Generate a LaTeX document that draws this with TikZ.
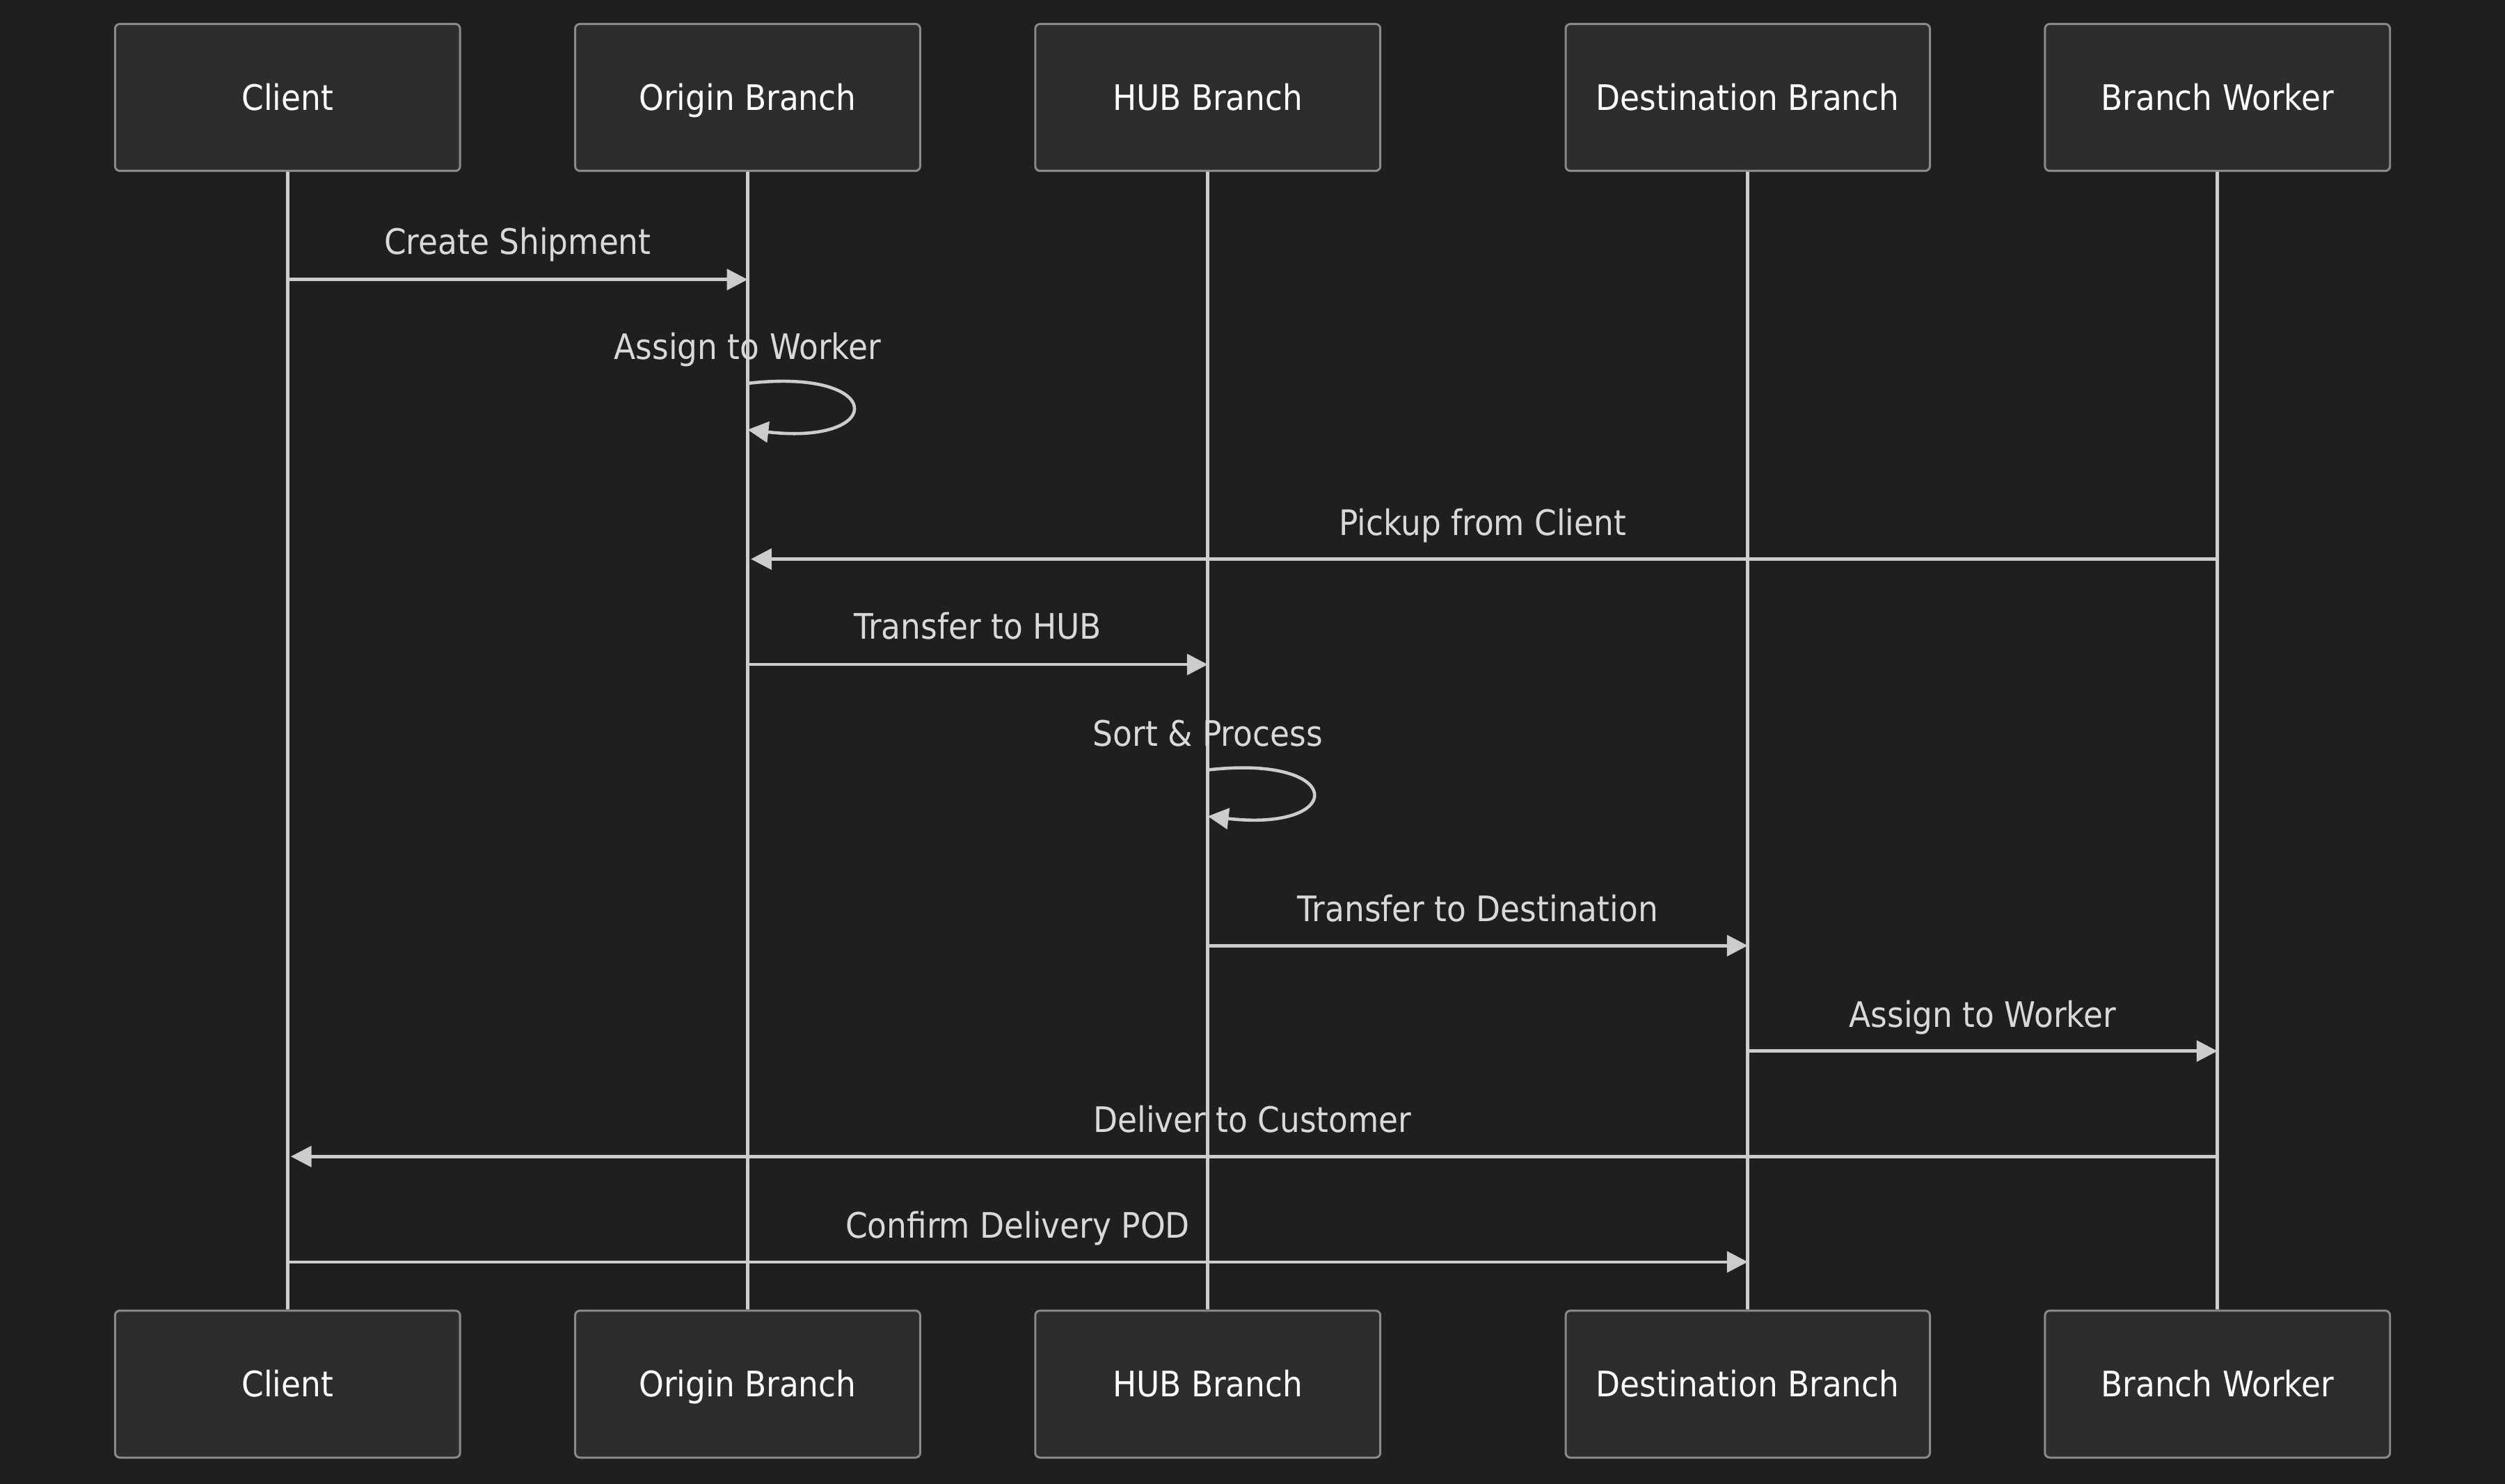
\documentclass[tikz,border=0pt]{standalone}
\usepackage{fontspec}
\setmainfont{DejaVu Sans}[FakeStretch=0.9]
\usetikzlibrary{arrows.meta, positioning}
\definecolor{bgcolor}{HTML}{1F1F1F}
\definecolor{actorfill}{HTML}{2D2D2D}
\definecolor{actorline}{HTML}{8A8A8A}
\definecolor{linecolor}{HTML}{CCCCCC}
\definecolor{msgtext}{HTML}{D9D9D9}

\begin{document}
\begin{tikzpicture}[
    x=1pt, y=-1pt,
    actor/.style={draw=actorline, line width=1.3pt, fill=actorfill, rounded corners=3pt, minimum width=216pt, minimum height=92pt, inner sep=0pt, text height=16pt, text depth=0pt, text=white, font=\fontsize{22}{26}\selectfont},
    lifeline/.style={draw=linecolor, line width=2pt},
    msg/.style={draw=linecolor, line width=2pt, -{Triangle[length=13pt, width=13pt]}},
    msglabel/.style={inner sep=0pt, text height=16pt, text depth=0pt, text=msgtext, font=\fontsize{22}{26}\selectfont}
]
    % Background
    \fill[bgcolor] (0,0) rectangle (1568,929);
    \useasboundingbox (0,0) rectangle (1568,929);

    % Actors (top)
    \node[actor] (client) at (180,61) {Client};
    \node[actor] (origin) at (468,61) {Origin Branch};
    \node[actor] (hub) at (756,61) {HUB Branch};
    \node[actor, minimum width=228pt] (dest) at (1094,61) {Destination Branch};
    \node[actor] (worker) at (1388,61) {Branch Worker};

    % Actors (bottom)
    \node[actor] (clientB) at (180,866.5) {Client};
    \node[actor] (originB) at (468,866.5) {Origin Branch};
    \node[actor] (hubB) at (756,866.5) {HUB Branch};
    \node[actor, minimum width=228pt] (destB) at (1094,866.5) {Destination Branch};
    \node[actor] (workerB) at (1388,866.5) {Branch Worker};

    % Lifelines
    \draw[lifeline] (client) -- (clientB);
    \draw[lifeline] (origin) -- (originB);
    \draw[lifeline] (hub) -- (hubB);
    \draw[lifeline] (dest) -- (destB);
    \draw[lifeline] (worker) -- (workerB);

    % Messages
    \draw[msg] (client.south |- 0,175) -- (origin.south |- 0,175);
    \node[msglabel] (createlbl) at (324,151) {Create Shipment};

    \draw[msg] (origin.south |- 0,240) .. controls (555,230) and (555,279) .. (origin.south |- 0,269);
    \node[msglabel] (assignlbl) at (468,217) {Assign to Worker};

    \draw[msg] (worker.south |- 0,350) -- ([xshift=2pt]origin.south |- 0,350);
    \node[msglabel] (pickuplbl) at (928,327) {Pickup from Client};

    \draw[msg] (origin.south |- 0,416) -- (hub.south |- 0,416);
    \node[msglabel] (hublbl) at (612,392) {Transfer to HUB};

    \draw[msg] (hub.south |- 0,482) .. controls (843,472) and (843,521) .. (hub.south |- 0,511);
    \node[msglabel] (sortlbl) at (756,459) {Sort \& Process};

    \draw[msg] (hub.south |- 0,592) -- (dest.south |- 0,592);
    \node[msglabel] (destlbl) at (925,569) {Transfer to Destination};

    \draw[msg] (dest.south |- 0,658) -- (worker.south |- 0,658);
    \node[msglabel] (workerlbl) at (1241,635) {Assign to Worker};

    \draw[msg] (worker.south |- 0,724) -- ([xshift=2pt]client.south |- 0,724);
    \node[msglabel] (deliverlbl) at (784,701) {Deliver to Customer};

    \draw[msg] (client.south |- 0,790) -- (dest.south |- 0,790);
    \node[msglabel] (podlbl) at (637,767) {Confirm Delivery POD};
\end{tikzpicture}
\end{document}
